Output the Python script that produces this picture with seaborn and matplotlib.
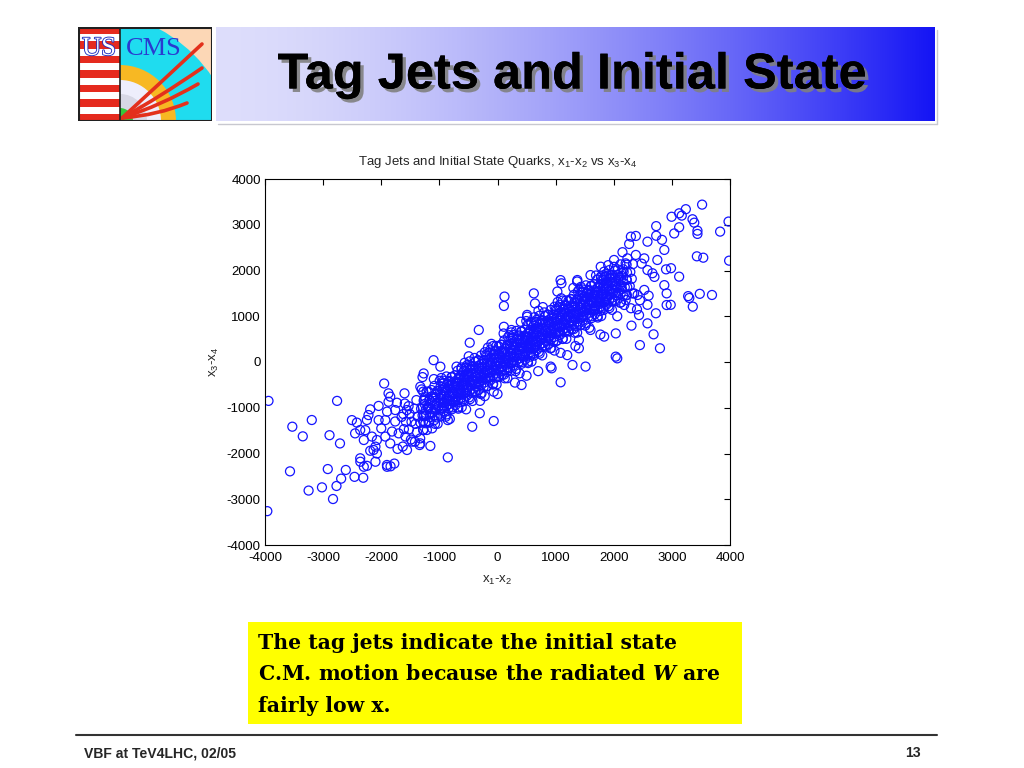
import numpy as np
import pandas as pd
import seaborn as sns
import matplotlib.pyplot as plt
import matplotlib.patheffects as pe
from matplotlib.patches import Rectangle, Wedge, PathPatch
from matplotlib.path import Path

# ---------------- data ----------------
title_text = "Tag Jets and Initial State"
chart_title = r"Tag Jets and Initial State Quarks, x$_{\mathregular{1}}$-x$_{\mathregular{2}}$ vs x$_{\mathregular{3}}$-x$_{\mathregular{4}}$"
x_label = r"x$_{\mathregular{1}}$-x$_{\mathregular{2}}$"
y_label = r"x$_{\mathregular{3}}$-x$_{\mathregular{4}}$"
tick_values = [-4000, -3000, -2000, -1000, 0, 1000, 2000, 3000, 4000]
box_lines = ["The tag jets indicate the initial state",
             r"C.M. motion because the radiated $\mathit{W}$ are",
             "fairly low x."]
footer_left = "VBF at TeV4LHC, 02/05"
footer_right = "13"

# dense band (outer spread)
band_core = [
    (-1630,-1848),(-1585,-1628),(-1610,-1468),(-1575,-1308),(-1620,-1138),(-1595,-908),
    (-1490,-1695),(-1525,-1475),(-1480,-1305),(-1510,-1135),(-1530,-965),
    (-1420,-1742),(-1385,-1532),(-1410,-1352),(-1375,-1192),(-1430,-1022),(-1395,-832),
    (-1280,-1489),(-1325,-1329),(-1290,-1169),(-1315,-1019),(-1270,-849),(-1305,-599),
    (-1215,-1486),(-1185,-1316),(-1230,-1166),(-1195,-996),(-1170,-836),(-1220,-646),
    (-1090,-1273),(-1125,-1113),(-1080,-933),(-1110,-773),(-1135,-613),(-1095,-373),
    (-1030,-1350),(-985,-1130),(-1010,-970),(-975,-810),(-1020,-640),(-995,-410),
    (-890,-1197),(-925,-977),(-880,-807),(-910,-637),(-930,-467),
    (-820,-1244),(-785,-1034),(-810,-854),(-775,-694),(-830,-524),(-795,-334),
    (-680,-991),(-725,-831),(-690,-671),(-715,-521),(-670,-351),(-705,-101),
    (-615,-988),(-585,-818),(-630,-668),(-595,-498),(-570,-338),(-620,-148),
    (-490,-775),(-525,-615),(-480,-435),(-510,-275),(-535,-115),(-495,125),
    (-430,-852),(-385,-632),(-410,-472),(-375,-312),(-420,-142),(-395,88),
    (-290,-699),(-325,-479),(-280,-309),(-310,-139),(-330,31),
    (-220,-746),(-185,-536),(-210,-356),(-175,-196),(-230,-26),(-195,164),
    (-80,-493),(-125,-333),(-90,-173),(-115,-23),(-70,147),(-105,397),
    (-15,-490),(15,-320),(-30,-170),(5,0),(30,160),(-20,350),
    (110,-277),(75,-117),(120,63),(90,223),(65,383),(105,623),
    (170,-354),(215,-134),(190,26),(225,186),(180,356),(205,586),
    (310,-201),(275,19),(320,189),(290,359),(270,529),
    (380,-248),(415,-38),(390,142),(425,302),(370,472),(405,662),
    (520,5),(475,165),(510,325),(485,475),(530,645),(495,895),
    (585,8),(615,178),(570,328),(605,498),(630,658),(580,848),
    (710,221),(675,381),(720,561),(690,721),(665,881),(705,1121),
    (770,144),(815,364),(790,524),(825,684),(780,854),(805,1084),
    (910,297),(875,517),(920,687),(890,857),(870,1027),
    (980,250),(1015,460),(990,640),(1025,800),(970,970),(1005,1160),
    (1120,503),(1075,663),(1110,823),(1085,973),(1130,1143),(1095,1393),
    (1185,506),(1215,676),(1170,826),(1205,996),(1230,1156),(1180,1346),
    (1310,719),(1275,879),(1320,1059),(1290,1219),(1265,1379),(1305,1619),
    (1370,642),(1415,862),(1390,1022),(1425,1182),(1380,1352),(1405,1582),
    (1510,795),(1475,1015),(1520,1185),(1490,1355),(1470,1525),
    (1580,748),(1615,958),(1590,1138),(1625,1298),(1570,1468),(1605,1658),
    (1720,1001),(1675,1161),(1710,1321),(1685,1471),(1730,1641),(1695,1891),
    (1785,1004),(1815,1174),(1770,1324),(1805,1494),(1830,1654),(1780,1844),
    (1910,1217),(1875,1377),(1920,1557),(1890,1717),(1865,1877),(1905,2117),
    (1970,1140),(2015,1360),(1990,1520),(2025,1680),(1980,1850),(2005,2080),
    (2110,1293),(2075,1513),(2120,1683),(2090,1853),(2070,2023),
    (2180,1246),(2215,1456),(2190,1636),(2225,1796),(2170,1966),(2205,2156),
    (2320,1499),(2275,1659),(2310,1819),(2285,1969),(2330,2139),
]

# dense band (inner)
band_inner = [
    (-1240,-1338),(-1265,-1188),(-1235,-1048),(-1255,-918),(-1245,-768),
    (-1160,-1205),(-1140,-1035),(-1155,-895),(-1135,-755),
    (-1040,-1212),(-1060,-1062),(-1045,-912),(-1065,-772),(-1035,-632),
    (-955,-1009),(-940,-889),(-960,-749),(-945,-609),(-935,-459),
    (-840,-1006),(-865,-856),(-835,-716),(-855,-586),(-845,-436),
    (-760,-873),(-740,-703),(-755,-563),(-735,-423),
    (-640,-880),(-660,-730),(-645,-580),(-665,-440),(-635,-300),
    (-555,-677),(-540,-557),(-560,-417),(-545,-277),(-535,-127),
    (-440,-674),(-465,-524),(-435,-384),(-455,-254),(-445,-104),
    (-360,-541),(-340,-371),(-355,-231),(-335,-91),
    (-240,-548),(-260,-398),(-245,-248),(-265,-108),(-235,32),
    (-155,-345),(-140,-225),(-160,-85),(-145,55),(-135,205),
    (-40,-342),(-65,-192),(-35,-52),(-55,78),(-45,228),
    (40,-208),(60,-38),(45,102),(65,242),
    (160,-215),(140,-65),(155,85),(135,225),(165,365),
    (245,-12),(260,108),(240,248),(255,388),(265,538),
    (360,-9),(335,141),(365,281),(345,411),(355,561),
    (440,124),(460,294),(445,434),(465,574),
    (560,117),(540,267),(555,417),(535,557),(565,697),
    (645,320),(660,440),(640,580),(655,720),(665,870),
    (760,323),(735,473),(765,613),(745,743),(755,893),
    (840,456),(860,626),(845,766),(865,906),
    (960,449),(940,599),(955,749),(935,889),(965,1029),
    (1045,652),(1060,772),(1040,912),(1055,1052),(1065,1202),
    (1160,655),(1135,805),(1165,945),(1145,1075),(1155,1225),
    (1240,788),(1260,958),(1245,1098),(1265,1238),
    (1360,781),(1340,931),(1355,1081),(1335,1221),(1365,1361),
    (1445,984),(1460,1104),(1440,1244),(1455,1384),(1465,1534),
    (1560,987),(1535,1137),(1565,1277),(1545,1407),(1555,1557),
    (1640,1120),(1660,1290),(1645,1430),(1665,1570),
    (1760,1113),(1740,1263),(1755,1413),(1735,1553),(1765,1693),
    (1845,1316),(1860,1436),(1840,1576),(1855,1716),(1865,1866),
    (1960,1319),(1935,1469),(1965,1609),(1945,1739),(1955,1889),
    (2040,1452),(2060,1622),(2045,1762),(2065,1902),
    (2160,1445),(2140,1595),(2155,1745),(2135,1885),(2165,2025),
]

# dense band (saturated middle, first fill)
band_fill_a = [
    (-1275,-1478),(-1280,-1298),(-1270,-1138),(-1285,-988),(-1265,-828),(-1278,-648),
    (-1175,-1325),(-1168,-1145),(-1182,-985),(-1172,-825),(-1180,-655),
    (-1075,-1352),(-1082,-1172),(-1068,-1012),(-1078,-852),(-1071,-702),(-1085,-522),
    (-975,-1189),(-968,-1019),(-982,-859),(-972,-699),(-979,-529),(-965,-349),
    (-875,-1146),(-880,-966),(-870,-806),(-885,-656),(-865,-496),(-878,-316),
    (-775,-993),(-768,-813),(-782,-653),(-772,-493),(-780,-323),
    (-675,-1020),(-682,-840),(-668,-680),(-678,-520),(-671,-370),(-685,-190),
    (-575,-857),(-568,-687),(-582,-527),(-572,-367),(-579,-197),(-565,-17),
    (-475,-814),(-480,-634),(-470,-474),(-485,-324),(-465,-164),(-478,16),
    (-375,-661),(-368,-481),(-382,-321),(-372,-161),(-380,9),
    (-275,-688),(-282,-508),(-268,-348),(-278,-188),(-271,-38),(-285,142),
    (-175,-525),(-168,-355),(-182,-195),(-172,-35),(-179,135),(-165,315),
    (-75,-482),(-80,-302),(-70,-142),(-85,8),(-65,168),(-78,348),
    (25,-329),(32,-149),(18,11),(28,171),(20,341),
    (125,-356),(118,-176),(132,-16),(122,144),(129,294),(115,474),
    (225,-193),(232,-23),(218,137),(228,297),(221,467),(235,647),
    (325,-150),(320,30),(330,190),(315,340),(335,500),(322,680),
    (425,3),(432,183),(418,343),(428,503),(420,673),
    (525,-24),(518,156),(532,316),(522,476),(529,626),(515,806),
    (625,139),(632,309),(618,469),(628,629),(621,799),(635,979),
    (725,182),(720,362),(730,522),(715,672),(735,832),(722,1012),
    (825,335),(832,515),(818,675),(828,835),(820,1005),
    (925,308),(918,488),(932,648),(922,808),(929,958),(915,1138),
    (1025,471),(1032,641),(1018,801),(1028,961),(1021,1131),(1035,1311),
    (1125,514),(1120,694),(1130,854),(1115,1004),(1135,1164),(1122,1344),
    (1225,667),(1232,847),(1218,1007),(1228,1167),(1220,1337),
    (1325,640),(1318,820),(1332,980),(1322,1140),(1329,1290),(1315,1470),
    (1425,803),(1432,973),(1418,1133),(1428,1293),(1421,1463),(1435,1643),
    (1525,846),(1520,1026),(1530,1186),(1515,1336),(1535,1496),(1522,1676),
    (1625,999),(1632,1179),(1618,1339),(1628,1499),(1620,1669),
    (1725,972),(1718,1152),(1732,1312),(1722,1472),(1729,1622),(1715,1802),
    (1825,1135),(1832,1305),(1818,1465),(1828,1625),(1821,1795),(1835,1975),
    (1925,1178),(1920,1358),(1930,1518),(1915,1668),(1935,1828),(1922,2008),
    (2025,1331),(2032,1511),(2018,1671),(2028,1831),(2020,2001),
    (2125,1304),(2118,1484),(2132,1644),(2122,1804),(2129,1954),(2115,2134),
    (2225,1467),(2232,1637),(2218,1797),(2228,1957),(2221,2127),
]

# dense band (saturated middle, second fill)
band_fill_b = [
    (-925,-1068),(-920,-888),(-930,-728),(-918,-568),(-928,-408),
    (-825,-915),(-830,-745),(-820,-575),(-828,-415),
    (-725,-942),(-720,-772),(-730,-612),(-722,-452),(-732,-292),
    (-625,-779),(-630,-609),(-620,-449),(-628,-289),(-618,-119),
    (-525,-736),(-520,-556),(-530,-396),(-518,-236),(-528,-76),
    (-425,-583),(-430,-413),(-420,-243),(-428,-83),
    (-325,-610),(-320,-440),(-330,-280),(-322,-120),(-332,40),
    (-225,-447),(-230,-277),(-220,-117),(-228,43),(-218,213),
    (-125,-404),(-120,-224),(-130,-64),(-118,96),(-128,256),
    (-25,-251),(-30,-81),(-20,89),(-28,249),
    (75,-278),(80,-108),(70,52),(78,212),(68,372),
    (175,-115),(170,55),(180,215),(172,375),(182,545),
    (275,-72),(280,108),(270,268),(282,428),(272,588),
    (375,81),(370,251),(380,421),(372,581),
    (475,54),(480,224),(470,384),(478,544),(468,704),
    (575,217),(570,387),(580,547),(572,707),(582,877),
    (675,260),(680,440),(670,600),(682,760),(672,920),
    (775,413),(770,583),(780,753),(772,913),
    (875,386),(880,556),(870,716),(878,876),(868,1036),
    (975,549),(970,719),(980,879),(972,1039),(982,1209),
    (1075,592),(1080,772),(1070,932),(1082,1092),(1072,1252),
    (1175,745),(1170,915),(1180,1085),(1172,1245),
    (1275,718),(1280,888),(1270,1048),(1278,1208),(1268,1368),
    (1375,881),(1370,1051),(1380,1211),(1372,1371),(1382,1541),
    (1475,924),(1480,1104),(1470,1264),(1482,1424),(1472,1584),
    (1575,1077),(1570,1247),(1580,1417),(1572,1577),
    (1675,1050),(1680,1220),(1670,1380),(1678,1540),(1668,1700),
    (1775,1213),(1770,1383),(1780,1543),(1772,1703),(1782,1873),
    (1875,1256),(1880,1436),(1870,1596),(1882,1756),(1872,1916),
    (1975,1409),(1970,1579),(1980,1749),(1972,1909),
]

# scattered points, low-x side
halo_low = [
    (-3940,-850),(-3960,-3260),(-3530,-1414),(-3350,-1625),(-3195,-1268),
    (-3570,-2390),(-3250,-2810),(-3020,-2740),(-2830,-2995),(-2770,-2710),
    (-2690,-2550),(-2610,-2360),(-2920,-2340),(-2890,-1600),(-2710,-1780),
    (-2760,-850),(-1950,-470),(-2460,-2510),(-2310,-2530),(-2360,-2180),
    (-2505,-1270),(-2420,-1325),(-2450,-1560),(-2300,-1705),(-2275,-1490),
    (-2220,-1160),(-2190,-1035),(-2045,-960),(-2045,-1270),(-2160,-1630),
    (-2190,-1940),(-2100,-1850),(-2075,-2000),(-2300,-2290),(-2245,-2270),
    (-2100,-2180),(-1900,-2290),(-1840,-2280),(-1775,-2220),(-1875,-685),
    (-1875,-870),(-1730,-890),(-1600,-685),(-1900,-1085),(-1930,-1270),
    (-1760,-1050),(-1760,-1300),(-1815,-1520),(-1930,-1630),(-1845,-1780),
    (-1470,-1740),(-1330,-1670),(-1340,-1815),(-1155,-1835),(-1125,-1450),
    (-855,-2085),(-855,-1270),(-1270,-250),(-1290,-330),(-1100,40),
    (-435,-1415),(-305,-1120),(-65,-1290),(-540,-1035),(-65,-650),
    (-983,-102),(-1328,-540),(-1845,-758),(-1328,-1778),(-1557,-1923),
    (-2133,-1923),(-2362,-1486),(-2247,-1268),(-2075,-1705),(-2362,-2105),
    (-1902,-2251),(-322,700),(-478,422),(-300,-850),(0,-700),(414,-503),
    (-1700,-1560),(-1650,-1200),(-1560,-1050),(-1720,-1900),(-2000,-1450),
]

# scattered points, high-x side
halo_high = [
    (3520,3440),(3240,3340),(3125,3250),(2995,3175),(3170,3200),(3355,3120),
    (3385,3045),(3440,2870),(3440,2800),(3125,2945),(3040,2810),(3975,3070),
    (3830,2850),(3985,2215),(3430,2310),(3540,2280),(2730,2970),(2730,2760),
    (2830,2670),(2870,2450),(2750,2230),(2580,2630),(2525,2265),(2380,2755),
    (2295,2740),(2265,2580),(2380,2340),(2235,2265),(2005,2230),(3125,1865),
    (2900,2025),(2985,2050),(2580,2010),(2665,1940),(2700,1860),(2870,1680),
    (3280,1440),(3300,1400),(3480,1490),(3690,1465),(3360,1210),(2910,1500),
    (2910,1245),(2980,1250),(2525,1575),(2410,1465),(2350,1500),(2600,1450),
    (2450,1350),(2205,1355),(2295,1175),(2400,1150),(2580,1250),(2725,1065),
    (2435,1025),(2580,845),(2305,795),(2685,605),(2450,370),(2795,300),
    (2060,80),(2035,625),(2060,1000),(1835,555),(1770,600),(1600,700),
    (1400,480),(1400,300),(1340,350),(1515,-100),(1290,-65),(1085,200),
    (1085,1790),(1100,1720),(625,1500),(645,1280),(120,1430),(110,1225),
    (110,770),(510,990),(1374,1792),(1776,2083),(1600,1900),(1800,1800),
    (1950,1900),(1086,-444),(931,-138),(2034,117),(400,880),(510,1030),
    (1030,1540),(1370,1760),(780,1200),(240,700),(914,-100),(700,-200),
    (300,-450),(500,-300),(1200,150),(1603,1355),(2150,2400),(2480,2150),
]

# ---------------- figure ----------------
sns.set_theme(style="white")
plt.rcParams["font.family"] = ["Liberation Sans", "DejaVu Sans"]
plt.rcParams["mathtext.fontset"] = "custom"
plt.rcParams["mathtext.rm"] = "Liberation Sans"
plt.rcParams["mathtext.it"] = "DejaVu Serif:bold:italic"

W, H = 1024, 768
fig = plt.figure(figsize=(10.24, 7.68), dpi=100, facecolor="white")
renderer = fig.canvas.get_renderer()

def fx(px):
    return px / W

def fy(py):
    return 1 - py / H

def fit_width(txt, target_px):
    # scale a text's font size so that its rendered width matches target_px
    wpx = txt.get_window_extent(renderer=renderer).width
    txt.set_fontsize(txt.get_fontsize() * target_px / wpx)
    return txt.get_fontsize()

# ---- banner gradient ----
bax = fig.add_axes([fx(216), fy(121), fx(935 - 216), (121 - 27) / H])
t = np.linspace(0, 1, 256)
ramp = t ** 1.6
c0 = np.array([0.87, 0.87, 0.985])
c1 = np.array([0.08, 0.08, 0.96])
grad = (c0[None, :] * (1 - ramp[:, None]) + c1[None, :] * ramp[:, None])[None, :, :]
bax.imshow(grad, aspect="auto", extent=[0, 1, 0, 1])
bax.set_axis_off()
fig.add_artist(plt.Line2D([fx(218), fx(937)], [fy(124), fy(124)], color="#c8c8d0", lw=1))
fig.add_artist(plt.Line2D([fx(937), fx(937)], [fy(124), fy(30)], color="#c8c8d0", lw=1))

ttl = fig.text(fx(573), fy(75), title_text, ha="center", va="center", fontsize=30,
               fontweight="bold", color="black",
               path_effects=[pe.withSimplePatchShadow(offset=(2.5, -2.5), shadow_rgbFace="#808080", alpha=0.9),
                             pe.Normal()])
fit_width(ttl, 590)

# ---- logo ----
lax = fig.add_axes([fx(78), fy(121), fx(134), 94 / H])
lax.set_xlim(0, 134)
lax.set_ylim(0, 94)
lax.set_axis_off()
n_str = 13
sh = 94 / n_str
for i in range(n_str):
    lax.add_patch(Rectangle((0, i * sh), 42, sh, color="#e52a1e" if i % 2 == 0 else "white", lw=0))
lax.add_patch(Rectangle((42, 0), 92, 94, color="#fcd7b6", lw=0))
cyan = Wedge((10, -40), 150, 0, 90, color="#1fdcef", lw=0)
lax.add_patch(cyan)
cyan.set_clip_path(Rectangle((42, 0), 92, 94, transform=lax.transData))
for r, col in [(56, "#f7b823"), (41, "#eeeefc"), (27, "#d8d8e6"), (13, "#36c83a")]:
    lax.add_patch(Wedge((42, 0), r, 0, 90, color=col, lw=0))
ends = [(124, 77), (124, 53), (120, 37), (109, 18)]
ctrls = [(78, 34), (82, 24), (84, 16), (80, 6)]
for (ex, ey), (cx_, cy_) in zip(ends, ctrls):
    p = Path([(44, 3), (cx_, cy_), (ex, ey)], [Path.MOVETO, Path.CURVE3, Path.CURVE3])
    lax.add_patch(PathPatch(p, fc="none", ec="#e3301c", lw=2.6, capstyle="round"))
lax.text(21, 72, "US", ha="center", va="center", fontsize=19, family="Liberation Serif",
         color="white", path_effects=[pe.withStroke(linewidth=1.3, foreground="#2030c0")])
lax.text(76, 72, "CMS", ha="center", va="center", fontsize=19, family="Liberation Serif",
         color="#2a3ad0")
lax.add_patch(Rectangle((0.5, 0.5), 133, 93, fc="none", ec="#202020", lw=1.5))
lax.plot([42, 42], [0, 94], color="#202020", lw=1.2)

# ---- scatter chart ----
pts = band_core + band_inner + band_fill_a + band_fill_b + halo_low + halo_high
df = pd.DataFrame(pts, columns=["x12", "x34"])

ax = fig.add_axes([fx(265), fy(545), fx(730 - 265), (545 - 179) / H])
sns.scatterplot(data=df, x="x12", y="x34", ax=ax, marker="o", s=42,
                facecolor="none", edgecolor="#1414ff", linewidth=0.9, legend=False)
ax.set_xlim(-4000, 4000)
ax.set_ylim(-4000, 4000)
ax.set_xticks(tick_values)
ax.set_yticks(tick_values)
ax.set_xticklabels([str(v) for v in tick_values])
ax.set_yticklabels([str(v) for v in tick_values])
ax.tick_params(direction="in", length=4, width=0.8, top=True, right=True,
               labelsize=9.5, colors="black")
ax.tick_params(axis="x", pad=5)
ax.tick_params(axis="y", pad=3)
for s in ax.spines.values():
    s.set_color("black")
    s.set_linewidth(0.8)
ax.set_xlabel(x_label, fontsize=9.5, labelpad=7)
ax.set_ylabel(y_label, fontsize=9.5, labelpad=4)
ax.set_title(chart_title, fontsize=9.5, pad=10)
ax.set_facecolor("white")

# ---- yellow box ----
fig.add_artist(Rectangle((fx(248), fy(724)), fx(742 - 248), (724 - 622) / H,
                         facecolor="#ffff00", edgecolor="none", transform=fig.transFigure))
box_texts = []
for line, py in zip(box_lines, [643, 674, 706]):
    box_texts.append(fig.text(fx(258), fy(py), line, ha="left", va="center", fontsize=16,
                              family="DejaVu Serif", fontweight="bold", color="black"))
fs = fit_width(box_texts[0], 418)
for bt in box_texts[1:]:
    bt.set_fontsize(fs)

# ---- footer ----
fig.add_artist(plt.Line2D([fx(76), fx(937)], [fy(735), fy(735)], color="#333333", lw=1.5))
ft = fig.text(fx(84), fy(753), footer_left, ha="left", va="center", fontsize=10, fontweight="bold")
fs2 = fit_width(ft, 152)
fig.text(fx(921), fy(753), footer_right, ha="right", va="center", fontsize=fs2, fontweight="bold")

fig.savefig("out.png", dpi=100, facecolor="white")
